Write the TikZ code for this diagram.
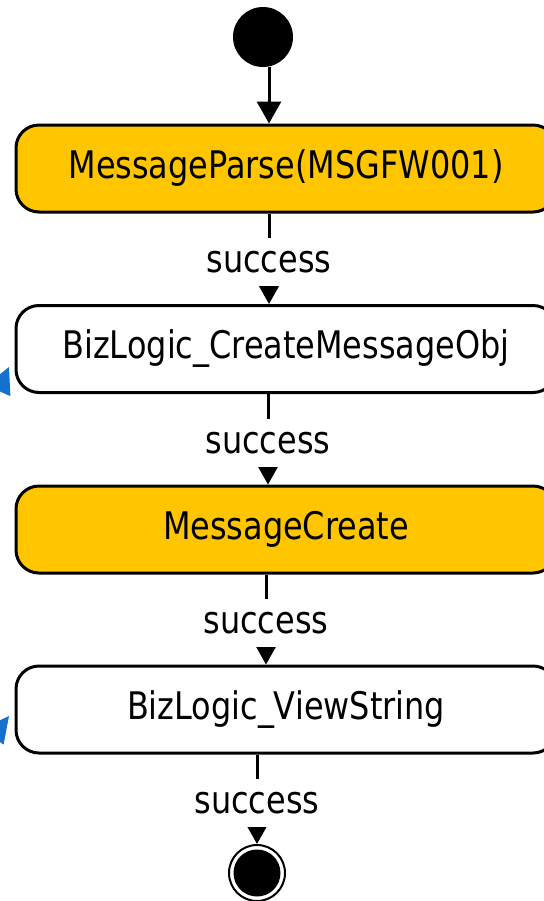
\documentclass[tikz,border=0pt]{standalone}
\usepackage{fontspec}
\setmainfont[FakeStretch=0.84]{DejaVu Sans}
\usetikzlibrary{positioning, arrows.meta, calc}
\definecolor{actFill}{HTML}{FFC600}
\definecolor{linkBlue}{HTML}{1570D0}

\begin{document}
\begin{tikzpicture}[x=0.5pt, y=-0.5pt, act/.style={draw, line width=1.5pt, rounded corners=11.5pt, minimum width=270pt, minimum height=43.5pt, inner sep=0pt, font=\fontsize{19}{22}\selectfont}, lbl/.style={fill=white, font=\fontsize{19}{22}\selectfont, inner xsep=1pt, inner ysep=6.5pt}, arr/.style={-{Triangle[length=11pt, width=12pt]}, line width=1.5pt}, farr/.style={-{Triangle[length=13pt, width=13pt]}, draw=linkBlue, fill=linkBlue, line width=1pt}]
\useasboundingbox (0,0) rectangle (544,901);
\clip (0,0) rectangle (544,901);
% activities
\node[circle, fill=black, minimum size=30pt, inner sep=0pt] (start) at (263,37) {};
\node[act, fill=actFill] (parse) at (286,168.5) {MessageParse(MSGFW001)};
\node[act, fill=white] (bizobj) at (286,349) {BizLogic\_CreateMessageObj};
\node[act, fill=actFill] (create) at (286,529.5) {MessageCreate};
\node[act, fill=white] (view) at (286,709.5) {BizLogic\_ViewString};
\node[circle, draw, line width=1pt, minimum size=28pt, inner sep=0pt] (stop) at (257,873) {};
\node[circle, fill=black, minimum size=23.5pt, inner sep=0pt] (stopdot) at (stop) {};
% transitions
\draw[arr] ($(start.south)+(6,0)$) -- ($(parse.north)+(-17,0)$);
\draw[arr] ($(parse.south)+(-17,0)$) -- node[lbl, pos=0.54] {success} ($(bizobj.north)+(-17,0)$);
\draw[arr] ($(bizobj.south)+(-18,0)$) -- node[lbl, pos=0.54] {success} ($(create.north)+(-18,0)$);
\draw[arr] ($(create.south)+(-20,0)$) -- node[lbl, pos=0.54] {success} ($(view.north)+(-20,0)$);
\draw[arr] ($(view.south)+(-29,0)$) -- node[lbl, pos=0.54] {success} (stop.north);
% incoming links from the left
\coordinate (srcA) at (-114,640); \coordinate (tipA) at (9,367);
\coordinate (srcB) at (-174,953); \coordinate (tipB) at (9,716);
\draw[farr] (srcA) -- (tipA); \draw[farr] (srcB) -- (tipB);
\end{tikzpicture}
\end{document}
